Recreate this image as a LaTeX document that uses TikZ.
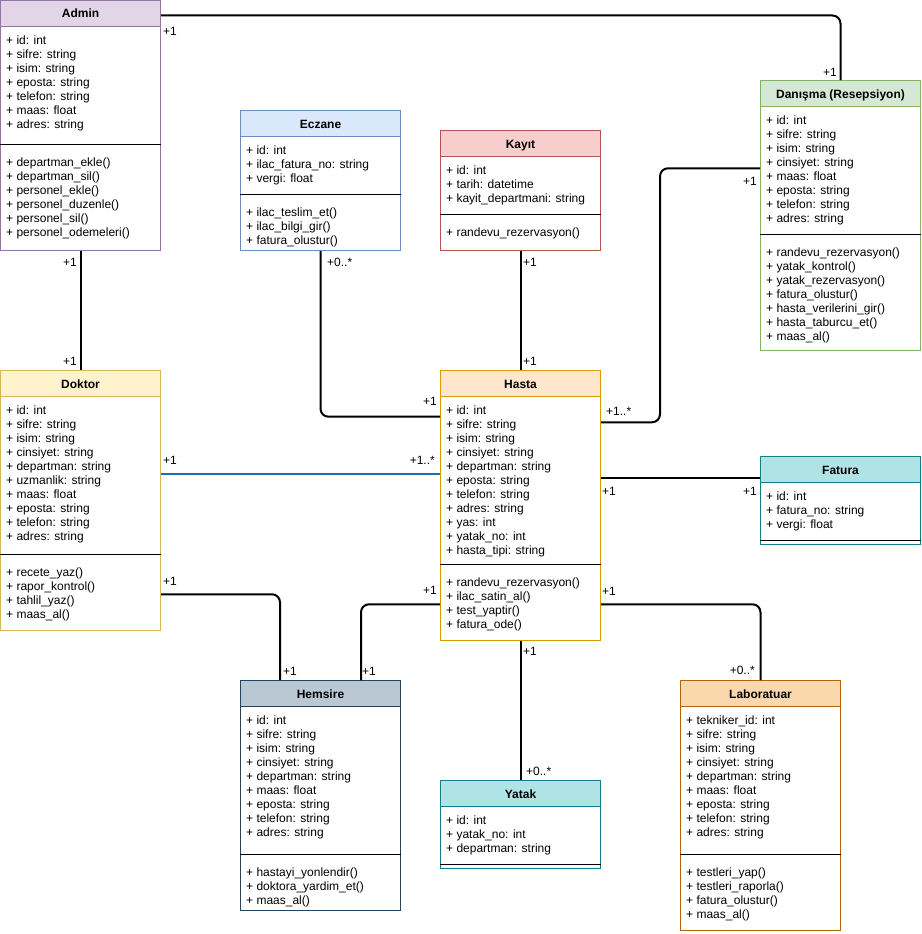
\documentclass[tikz,border=0pt]{standalone}
\usepackage{fontspec}
\setmainfont{Liberation Sans}
\usetikzlibrary{calc}
\definecolor{adminfill}{HTML}{E1D5E7}\definecolor{adminline}{HTML}{9673A6}
\definecolor{greenfill}{HTML}{D5E8D4}\definecolor{greenline}{HTML}{82B366}
\definecolor{bluefill}{HTML}{DAE8FC}\definecolor{blueline}{HTML}{6C8EBF}
\definecolor{redfill}{HTML}{F8CECC}\definecolor{redline}{HTML}{B85450}
\definecolor{yellowfill}{HTML}{FFF2CC}\definecolor{yellowline}{HTML}{D6B656}
\definecolor{orangefill}{HTML}{FFE6CC}\definecolor{orangeline}{HTML}{D79B00}
\definecolor{tealfill}{HTML}{B0E3E6}\definecolor{tealline}{HTML}{0E8088}
\definecolor{grayfill}{HTML}{BAC8D3}\definecolor{grayline}{HTML}{23445D}
\definecolor{labfill}{HTML}{FAD7AC}\definecolor{labline}{HTML}{B46504}
\definecolor{assocblue}{HTML}{1F6FB2}
\tikzset{
 clsbox/.style={draw, fill=white, line width=1pt, minimum width=160pt, inner sep=0pt, anchor=north west},
 clshead/.style={draw, line width=1pt, minimum width=160pt, minimum height=26pt, inner sep=0pt, anchor=north west},
 clstitle/.style={font=\fontsize{12}{14}\selectfont\bfseries, inner sep=0pt, anchor=base},
 clstext/.style={font=\fontsize{12}{14}\selectfont, align=left, inner sep=0pt, anchor=north west},
 sepline/.style={draw=black, line width=1pt},
 assoc/.style={draw=black, line width=2pt, rounded corners=8pt},
 mult/.style={font=\fontsize{12}{14}\selectfont, inner sep=0pt},
}
\newcommand\clsstrut{\rule{0pt}{10pt}}
\newcommand\umlcls[9]{%
 \node[clsbox, draw=#5line, minimum height=#4pt] (#1) at (#2,#3) {};
 \node[clshead, draw=#5line, fill=#5fill] (#1H) at (#1.north west) {};
 \node[clstitle] (#1T) at ([yshift=-18pt]#1.north) {#6};
 \node[clstext] (#1A) at ([xshift=6pt,yshift=-34pt]#1.north west) {\clsstrut#7};
 \draw[sepline] ([yshift=-#8pt]#1.north west) -- ([yshift=-#8pt]#1.north east);
 \node[clstext] (#1M) at ([xshift=6pt,yshift=-#8pt-12pt]#1.north west) {\clsstrut#9};
}
\newcommand\umlclsnm[8]{%
 \node[clsbox, draw=#5line, minimum height=#4pt] (#1) at (#2,#3) {};
 \node[clshead, draw=#5line, fill=#5fill] (#1H) at (#1.north west) {};
 \node[clstitle] (#1T) at ([yshift=-18pt]#1.north) {#6};
 \node[clstext] (#1A) at ([xshift=6pt,yshift=-34pt]#1.north west) {\clsstrut#7};
 \draw[sepline] ([yshift=-#8pt]#1.north west) -- ([yshift=-#8pt]#1.north east);
}
\begin{document}
\begin{tikzpicture}[x=1pt,y=-1pt]
\useasboundingbox (0,0) rectangle (921,934);

\umlcls{admin}{0}{0}{250}{admin}{Admin}
 {+ id: int\\+ sifre: string\\+ isim: string\\+ eposta: string\\+ telefon: string\\+ maas: float\\+ adres: string}
 {144}
 {+ departman\_ekle()\\+ departman\_sil()\\+ personel\_ekle()\\+ personel\_duzenle()\\+ personel\_sil()\\+ personel\_odemeleri()}

\umlcls{danisma}{760}{80}{270}{green}{Danışma (Resepsiyon)}
 {+ id: int\\+ sifre: string\\+ isim: string\\+ cinsiyet: string\\+ maas: float\\+ eposta: string\\+ telefon: string\\+ adres: string}
 {154}
 {+ randevu\_rezervasyon()\\+ yatak\_kontrol()\\+ yatak\_rezervasyon()\\+ fatura\_olustur()\\+ hasta\_verilerini\_gir()\\+ hasta\_taburcu\_et()\\+ maas\_al()}

\umlcls{eczane}{240}{110}{140}{blue}{Eczane}
 {+ id: int\\+ ilac\_fatura\_no: string\\+ vergi: float}
 {84}
 {+ ilac\_teslim\_et()\\+ ilac\_bilgi\_gir()\\+ fatura\_olustur()}

\umlcls{kayit}{440}{130}{120}{red}{Kayıt}
 {+ id: int\\+ tarih: datetime\\+ kayit\_departmani: string}
 {84}
 {+ randevu\_rezervasyon()}

\umlcls{doktor}{0}{370}{260}{yellow}{Doktor}
 {+ id: int\\+ sifre: string\\+ isim: string\\+ cinsiyet: string\\+ departman: string\\+ uzmanlik: string\\+ maas: float\\+ eposta: string\\+ telefon: string\\+ adres: string}
 {184}
 {+ recete\_yaz()\\+ rapor\_kontrol()\\+ tahlil\_yaz()\\+ maas\_al()}

\umlcls{hasta}{440}{370}{270}{orange}{Hasta}
 {+ id: int\\+ sifre: string\\+ isim: string\\+ cinsiyet: string\\+ departman: string\\+ eposta: string\\+ telefon: string\\+ adres: string\\+ yas: int\\+ yatak\_no: int\\+ hasta\_tipi: string}
 {194}
 {+ randevu\_rezervasyon()\\+ ilac\_satin\_al()\\+ test\_yaptir()\\+ fatura\_ode()}

\umlclsnm{fatura}{760}{456}{88}{teal}{Fatura}
 {+ id: int\\+ fatura\_no: string\\+ vergi: float}
 {84}

\umlcls{hemsire}{240}{680}{230}{gray}{Hemsire}
 {+ id: int\\+ sifre: string\\+ isim: string\\+ cinsiyet: string\\+ departman: string\\+ maas: float\\+ eposta: string\\+ telefon: string\\+ adres: string}
 {174}
 {+ hastayi\_yonlendir()\\+ doktora\_yardim\_et()\\+ maas\_al()}

\umlclsnm{yatak}{440}{780}{88}{teal}{Yatak}
 {+ id: int\\+ yatak\_no: int\\+ departman: string}
 {84}

\umlcls{lab}{680}{680}{250}{lab}{Laboratuar}
 {+ tekniker\_id: int\\+ sifre: string\\+ isim: string\\+ cinsiyet: string\\+ departman: string\\+ maas: float\\+ eposta: string\\+ telefon: string\\+ adres: string}
 {174}
 {+ testleri\_yap()\\+ testleri\_raporla()\\+ fatura\_olustur()\\+ maas\_al()}

% connectors
\draw[assoc] ([yshift=-15.5pt]admin.north east) -| (danisma.north);
\draw[assoc] (admin.south) -- (doktor.north);
\draw[assoc] (eczane.south) |- ([yshift=-46.7pt]hasta.north west);
\draw[assoc] (kayit.south) -- (hasta.north);
\draw[assoc] ([yshift=-88.3pt]danisma.north west) -- ++(-100,0) |- ([yshift=-52.3pt]hasta.north east);
\draw[assoc, draw=assocblue] ([yshift=-103.7pt]doktor.north east) -- ([yshift=-103.7pt]hasta.north west);
\draw[assoc] ([yshift=-108.3pt]hasta.north east) -- ([yshift=-22.3pt]fatura.north west);
\draw[assoc] ([yshift=-224.3pt]doktor.north east) -| ([xshift=40pt]hemsire.north west);
\draw[assoc] ([yshift=-234.3pt]hasta.north west) -| ([xshift=-40pt]hemsire.north east);
\draw[assoc] ([yshift=-234.3pt]hasta.north east) -| (lab.north);
\draw[assoc] (hasta.south) -- (yatak.north);

% multiplicities
\node[mult, anchor=west] (m1) at (163,31) {+1};
\node[mult, anchor=west] (m2) at (823,72) {+1};
\node[mult, anchor=east] (m3) at (77,262) {+1};
\node[mult, anchor=east] (m4) at (77,361) {+1};
\node[mult, anchor=west] (m5) at (327,262) {+0..*};
\node[mult, anchor=east] (m6) at (437,401.7) {+1};
\node[mult, anchor=west] (m7) at (523,262) {+1};
\node[mult, anchor=west] (m8) at (523,361) {+1};
\node[mult, anchor=east] (m9) at (757,181) {+1};
\node[mult, anchor=west] (m10) at (606,411.7) {+1..*};
\node[mult, anchor=west] (m11) at (163,460.7) {+1};
\node[mult, anchor=east] (m12) at (435,460.7) {+1..*};
\node[mult, anchor=west] (m13) at (602,491) {+1};
\node[mult, anchor=east] (m14) at (757,491) {+1};
\node[mult, anchor=west] (m15) at (163,581) {+1};
\node[mult, anchor=west] (m16) at (283,671.7) {+1};
\node[mult, anchor=east] (m17) at (437,590.7) {+1};
\node[mult, anchor=west] (m18) at (362,671.7) {+1};
\node[mult, anchor=west] (m19) at (602,591) {+1};
\node[mult, anchor=east] (m20) at (755,670.7) {+0..*};
\node[mult, anchor=west] (m21) at (523,651.7) {+1};
\node[mult, anchor=west] (m22) at (526,771.7) {+0..*};
\end{tikzpicture}
\end{document}
